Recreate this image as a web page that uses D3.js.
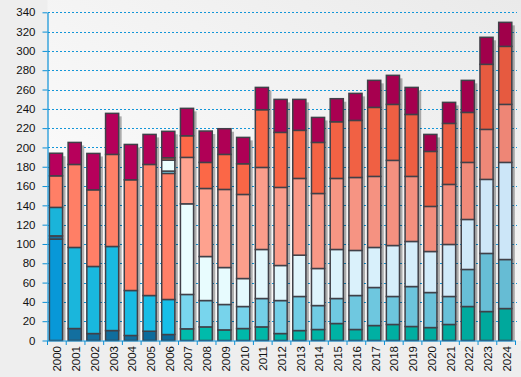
<!DOCTYPE html>
<html>
<head>
<meta charset="utf-8">
<script src="https://cdn.jsdelivr.net/npm/d3@7"></script>
<style>
  body { margin: 0; background: #eeeeee; }
  svg { display: block; font-family: "Liberation Sans", Arial, sans-serif; }
</style>
</head>
<body>
<div id="chart"></div>
<script>
const years = ["2000","2001","2002","2003","2004","2005","2006","2007","2008","2009","2010","2011","2012",
  "2013","2014","2015","2016","2017","2018","2019","2020","2021","2022","2023","2024"];

// stacked from bottom to top
const brightBlue = [105,0,0,0,0,0,0,0,0,0,0,0,0,0,0,0,0,0,0,0,0,0,0,0,0];
const darkBlue = [3.4,12.4,7.2,10.3,5.2,9.6,6.2,0,0,0,0,0,0,0,0,0,0,0,0,0,0,0,0,0,0];
const cyan = [29.5,84,69.5,87.1,46.6,37,36.3,0,0,0,0,0,0,0,0,0,0,0,0,0,0,0,0,0,0];
const salmon = [32.7,86,79.4,95.4,114.7,135.8,130.6,0,0,0,0,0,0,0,0,0,0,0,0,0,0,0,0,0,0];
const teal = [0,0,0,0,0,0,0,12.1,14.1,11,12.4,14.1,7.2,10.3,11.4,17.6,11.4,15.5,16.6,14.5,13.4,16.6,35.2,30,33.1];
const lightBlue = [0,0,0,0,0,0,2.4,35.6,27.3,26.3,22.8,29.4,34.2,35.3,24.8,25.9,35.2,39.4,29,41.4,36.3,29,38.4,60.2,50.8];
const white = [0,0,0,0,0,0,11.4,93.9,45.6,38.3,29,50.8,36.3,42.8,38.4,50.8,46.7,41.5,52.8,46.7,42.5,53.9,51.8,76.7,100.6];
const lightSalmon = [0,0,0,0,0,0,0,48.1,70.5,80.9,87.1,85,80.9,79.5,77.7,73.6,75.6,73.6,88.2,67.4,46.7,62.2,59.1,51.8,60.1];
const orange = [0,0,0,0,0,0,2.4,22.4,27,36.3,31.8,59.8,57,49.8,52.9,58.7,59.1,71.5,58,64.2,57,63.2,51.8,67.4,60.1];
const magenta = [23.4,22.8,37.7,42.5,36.6,31.1,27.4,28.4,32.5,26.6,27.3,23.1,34.2,32.1,25.9,23.9,28,28,30.1,28,17.6,21.8,33.2,28,24.9];

const yTicks = d3.range(0, 341, 20);

const series = [
  { key: "brightBlue", values: brightBlue, colors: ["#0898d8", "#0898d8"] },
  { key: "darkBlue", values: darkBlue, colors: ["#1470a0", "#0c6a9a"] },
  { key: "cyan", values: cyan, colors: ["#1ab4da", "#17bfe8"] },
  { key: "salmon", values: salmon, colors: ["#ff7f66", "#ff8068"] },
  { key: "teal", values: teal, colors: ["#00bcac", "#00a89c"] },
  { key: "lightBlue", values: lightBlue, colors: ["#7ad8f0", "#66bcd4"] },
  { key: "white", values: white, colors: ["#ecffff", "#cce6f8"] },
  { key: "lightSalmon", values: lightSalmon, colors: ["#ffa491", "#ee8676"] },
  { key: "orange", values: orange, colors: ["#ff6a48", "#e65a40"] },
  { key: "magenta", values: magenta, colors: ["#b8005c", "#a0004a"] }
];

const width = 521;
const height = 377;

const svg = d3.select("#chart")
  .append("svg")
  .attr("width", width)
  .attr("height", height);

const defs = svg.append("defs");
const bgGrad = defs.append("linearGradient")
  .attr("id", "bg")
  .attr("x1", 0).attr("y1", 1).attr("x2", 1).attr("y2", 0);
bgGrad.append("stop").attr("offset", "0%").attr("stop-color", "#ffffff");
bgGrad.append("stop").attr("offset", "100%").attr("stop-color", "#eaeaea");

const x = d3.scaleBand().domain(years).range([47.5, 515.5]).padding(0);
const y = d3.scaleLinear().domain([0, 340]).range([340.5, 12.3]);

svg.append("rect")
  .attr("x", 47.5).attr("y", 0)
  .attr("width", width - 47.5).attr("height", 341)
  .attr("fill", "url(#bg)");

// dotted grid
svg.append("g")
  .selectAll("line")
  .data(yTicks.filter(d => d > 0))
  .join("line")
  .attr("x1", 48).attr("x2", 517)
  .attr("y1", d => Math.round(y(d)) + 0.5)
  .attr("y2", d => Math.round(y(d)) + 0.5)
  .attr("stroke", "#1396d8")
  .attr("stroke-width", 1)
  .attr("stroke-dasharray", "2,2");

// stack
const rows = years.map((yr, i) => {
  const row = { year: yr, index: i };
  series.forEach(s => { row[s.key] = s.values[i]; });
  return row;
});
const stacked = d3.stack().keys(series.map(s => s.key))(rows);

const barX = d => x(d) + 1.9;
const barW = x.bandwidth() - 5.6;

// shadows
svg.append("g")
  .selectAll("rect")
  .data(rows)
  .join("rect")
  .attr("x", d => barX(d.year) + 3)
  .attr("y", d => y(d3.sum(series, s => d[s.key])) + 3)
  .attr("width", barW)
  .attr("height", d => y(0) - y(d3.sum(series, s => d[s.key])) - 3)
  .attr("fill", "#000")
  .attr("opacity", 0.3);

const colorFor = (s, i) => {
  const present = s.values.map((v, k) => v > 0 ? k : null).filter(k => k != null);
  const first = d3.min(present), last = d3.max(present);
  const t = last === first ? 0 : (i - first) / (last - first);
  return d3.interpolateRgb(s.colors[0], s.colors[1])(t);
};

stacked.forEach((layer, li) => {
  const s = series[li];
  svg.append("g")
    .selectAll("rect")
    .data(layer.filter(d => d[1] - d[0] > 0))
    .join("rect")
    .attr("x", d => barX(d.data.year))
    .attr("y", d => y(d[1]))
    .attr("width", barW)
    .attr("height", d => y(d[0]) - y(d[1]))
    .attr("fill", d => colorFor(s, d.data.index))
    .attr("stroke", "#404048")
    .attr("stroke-width", 1.5);
});

// y axis
const yAxis = svg.append("g")
  .attr("transform", "translate(47.5,0)")
  .call(d3.axisLeft(y).tickValues(yTicks).tickSize(5).tickSizeOuter(0).tickPadding(7));
yAxis.select(".domain").attr("stroke", "#0a8fd6").attr("stroke-width", 1.2);
yAxis.selectAll(".tick line").attr("stroke", "#0a8fd6");
yAxis.selectAll(".tick text")
  .attr("fill", "#111")
  .style("font-size", "11.5px")
  .style("font-family", "'Liberation Sans', Arial, sans-serif");

// x axis
const xAxisG = svg.append("g");
xAxisG.append("line")
  .attr("x1", 47.5).attr("x2", 516)
  .attr("y1", 341).attr("y2", 341)
  .attr("stroke", "#0a8fd6").attr("stroke-width", 1.2);
xAxisG.selectAll(".xt")
  .data(years.concat(["end"]))
  .join("line")
  .attr("class", "xt")
  .attr("x1", d => d === "end" ? 515.5 : x(d))
  .attr("x2", d => d === "end" ? 515.5 : x(d))
  .attr("y1", 341).attr("y2", 345)
  .attr("stroke", "#0a8fd6");
xAxisG.selectAll("text")
  .data(years)
  .join("text")
  .attr("transform", d => `translate(${x(d) + x.bandwidth() / 2 + 0.5},346) rotate(-90)`)
  .attr("text-anchor", "end")
  .attr("dy", "0.35em")
  .attr("fill", "#111")
  .style("font-size", "11.5px")
  .text(d => d);
</script>
</body>
</html>
